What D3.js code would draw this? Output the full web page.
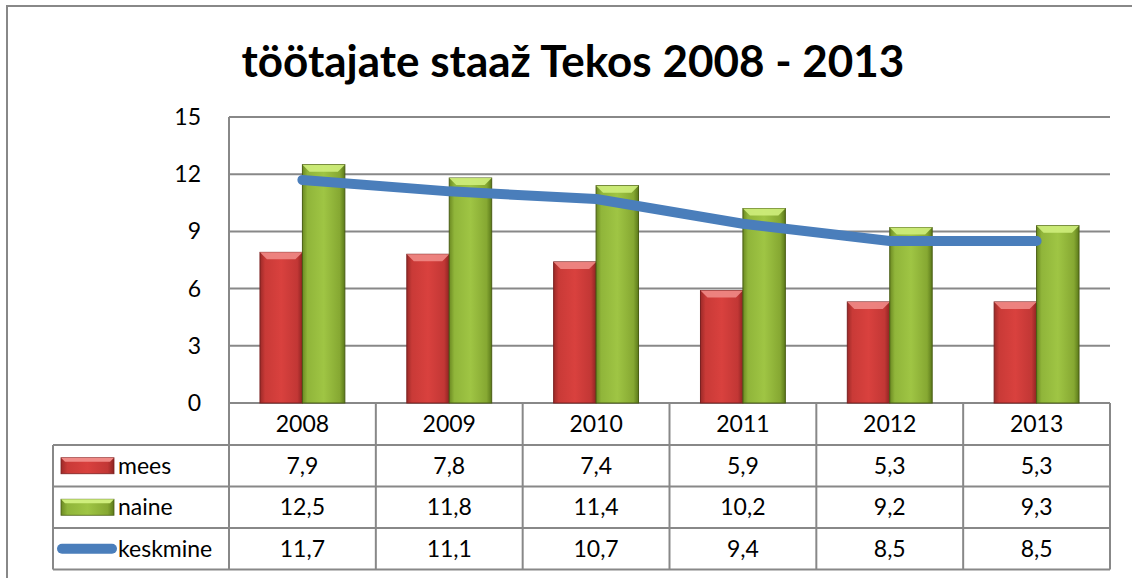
<!DOCTYPE html>
<html>
<head>
<meta charset="utf-8">
<script src="https://cdn.jsdelivr.net/npm/d3@7"></script>
<style>
body { margin: 0; background: #fff; }
text { font-family: Lato, "Open Sans", sans-serif; fill: #000; }
</style>
</head>
<body>
<div id="chart"></div>
<script>
const width = 1132
const height = 578
const margin = {top: 117, left: 229, right: 22, bottom: 175}

const years = ["2008", "2009", "2010", "2011", "2012", "2013"]
const mees = [7.9, 7.8, 7.4, 5.9, 5.3, 5.3]
const naine = [12.5, 11.8, 11.4, 10.2, 9.2, 9.3]
const keskmine = [11.7, 11.1, 10.7, 9.4, 8.5, 8.5]
const yTicks = [0, 3, 6, 9, 12, 15]

const fmt = v => String(v.toFixed(1)).replace(".", ",")
const fs = "23px"

const svg = d3.select("#chart").append("svg").attr("width", width).attr("height", height)
const defs = svg.append("defs")

// bevel-ish gradients
function barGrad(id, stops) {
    const g = defs.append("linearGradient").attr("id", id).attr("x1", 0).attr("x2", 1).attr("y1", 0).attr("y2", 0)
    stops.forEach(s => g.append("stop").attr("offset", s[0]).attr("stop-color", s[1]))
}
barGrad("redG", [[0, "#9c2a28"], [0.12, "#c93a37"], [0.5, "#d9413e"], [0.88, "#c23735"], [1, "#8e2422"]])
barGrad("greenG", [[0, "#6c8a22"], [0.12, "#90b53a"], [0.5, "#9fc544"], [0.88, "#86a832"], [1, "#5c7a1a"]])

// outer frame
svg.append("path").attr("d", `M${width},6H7V${height}`).attr("fill", "none").attr("stroke", "#888").attr("stroke-width", 2)

svg.append("text").attr("x", 573).attr("y", 77).attr("text-anchor", "middle")
    .style("font-size", "44px").style("font-weight", "bold").text("töötajate staaž Tekos 2008 - 2013")

const plotW = 1110 - margin.left
const plotBottom = 403

const x = d3.scaleBand().domain(years).range([margin.left, margin.left + plotW])
const y = d3.scaleLinear().domain([0, 15]).range([plotBottom, margin.top])
const inner = d3.scaleBand().domain(["mees", "naine"]).range([0, x.bandwidth()]).paddingOuter(0.73).paddingInner(0)

// grid
svg.append("g").selectAll("line").data(yTicks).join("line")
    .attr("x1", margin.left).attr("x2", margin.left + plotW)
    .attr("y1", d => y(d)).attr("y2", d => y(d))
    .attr("stroke", "#888").attr("stroke-width", 2)
svg.append("line").attr("x1", margin.left).attr("x2", margin.left).attr("y1", margin.top).attr("y2", plotBottom)
    .attr("stroke", "#888").attr("stroke-width", 2)

svg.append("g").selectAll("text").data(yTicks).join("text")
    .attr("x", 201).attr("y", d => y(d)).attr("dy", "0.35em").attr("text-anchor", "end")
    .style("font-size", fs).text(d => d)

// bars
const series = [
    {name: "mees", values: mees, fill: "url(#redG)", top: "#f08a86", stroke: "#7a2020"},
    {name: "naine", values: naine, fill: "url(#greenG)", top: "#cfee7c", stroke: "#4a5e14"}
]

series.forEach(s => {
    const g = svg.append("g")
    const bw = inner.bandwidth()
    g.selectAll("rect").data(s.values).join("rect")
        .attr("x", (d, i) => x(years[i]) + inner(s.name))
        .attr("y", d => y(d))
        .attr("width", bw)
        .attr("height", d => plotBottom - y(d))
        .attr("fill", s.fill).attr("stroke", s.stroke).attr("stroke-width", 1)
    // top bevel
    g.selectAll("path").data(s.values).join("path")
        .attr("d", (d, i) => {
            const x0 = x(years[i]) + inner(s.name), y0 = y(d), b = 7
            return `M${x0},${y0}H${x0 + bw}L${x0 + bw - b},${y0 + b}H${x0 + b}Z`
        })
        .attr("fill", s.top).attr("opacity", 0.9)
})

// average line
const line = d3.line().x((d, i) => x(years[i]) + x.bandwidth() / 2).y(d => y(d))
svg.append("path").datum(keskmine).attr("d", line)
    .attr("fill", "none").attr("stroke", "#4a7ebb").attr("stroke-width", 10)
    .attr("stroke-linecap", "round").attr("stroke-linejoin", "round")

// data table
const tableLeft = 53
const rowH = 41.5
const headTop = plotBottom
const headBottom = 445
const rows = [
    {label: "mees", values: mees, key: "redG", top: "#f08a86", stroke: "#7a2020"},
    {label: "naine", values: naine, key: "greenG", top: "#cfee7c", stroke: "#4a5e14"},
    {label: "keskmine", values: keskmine, key: "line"}
]
const rowY = d3.scaleBand().domain(rows.map(r => r.label)).range([headBottom, headBottom + rowH * 3])

const tg = svg.append("g").attr("stroke", "#888").attr("stroke-width", 2)
// vertical lines
const colEdges = years.map(yr => x(yr)).concat([margin.left + plotW])
colEdges.forEach(cx => tg.append("line").attr("x1", cx).attr("x2", cx).attr("y1", headTop).attr("y2", rowY.range()[1]))
tg.append("line").attr("x1", tableLeft).attr("x2", tableLeft).attr("y1", headBottom).attr("y2", rowY.range()[1])
// horizontal lines
;[headBottom].concat(rows.map(r => rowY(r.label) + rowH)).forEach(ry =>
    tg.append("line").attr("x1", tableLeft).attr("x2", margin.left + plotW).attr("y1", ry).attr("y2", ry))

svg.append("g").selectAll("text").data(years).join("text")
    .attr("x", d => x(d) + x.bandwidth() / 2).attr("y", (headTop + headBottom) / 2).attr("dy", "0.35em")
    .attr("text-anchor", "middle").style("font-size", fs).text(d => d)

rows.forEach(r => {
    const cy = rowY(r.label) + rowH / 2
    svg.append("g").selectAll("text").data(r.values).join("text")
        .attr("x", (d, i) => x(years[i]) + x.bandwidth() / 2).attr("y", cy).attr("dy", "0.35em")
        .attr("text-anchor", "middle").style("font-size", fs).text(d => fmt(d))
    if (r.key === "line") {
        svg.append("line").attr("x1", 62).attr("x2", 112).attr("y1", cy).attr("y2", cy)
            .attr("stroke", "#4a7ebb").attr("stroke-width", 10).attr("stroke-linecap", "round")
    } else {
        svg.append("rect").attr("x", 61).attr("y", cy - 8).attr("width", 53).attr("height", 16)
            .attr("fill", `url(#${r.key})`).attr("stroke", r.stroke).attr("stroke-width", 0.8)
        svg.append("path").attr("d", `M61,${cy - 8}H114L110,${cy - 4}H65Z`).attr("fill", r.top)
    }
    svg.append("text").attr("x", 118).attr("y", cy).attr("dy", "0.35em").style("font-size", fs).text(r.label)
})
</script>
</body>
</html>
